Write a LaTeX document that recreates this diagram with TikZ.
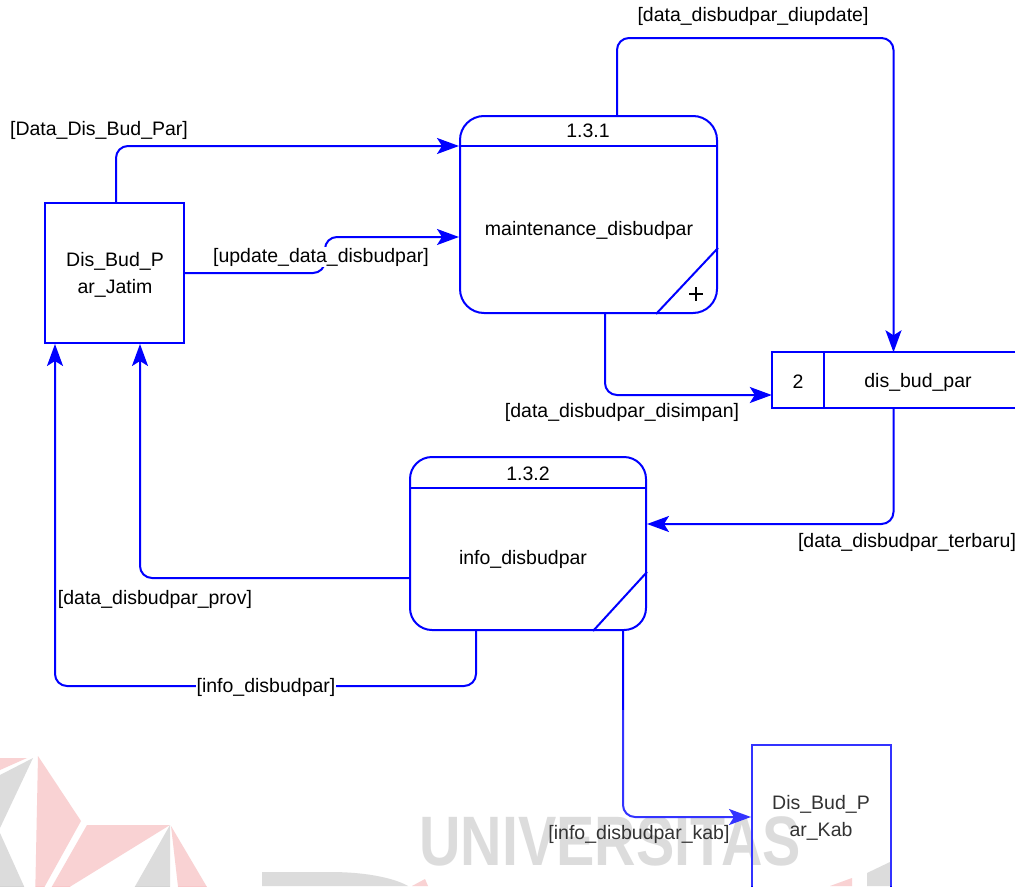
\documentclass[tikz,border=0pt]{standalone}
\usepackage{fontspec}
\setmainfont{Liberation Sans}
\usetikzlibrary{arrows.meta,calc}
\definecolor{dfd}{RGB}{0,0,255}
\definecolor{wmgray}{RGB}{212,212,212}
\definecolor{wmpink}{RGB}{248,199,201}
\begin{document}
\begin{tikzpicture}[x=1pt,y=-1pt,
  lbl/.style={font=\fontsize{19.5}{27}\selectfont, inner sep=1pt, text=black, align=center},
  extbox/.style={draw=dfd, line width=2pt, rectangle, inner sep=0pt},
  procbox/.style={draw=dfd, line width=2pt, rectangle, rounded corners=24pt, inner sep=0pt},
  part/.style={draw=dfd, line width=2pt},
  flow/.style={draw=dfd, line width=2pt, rounded corners=12pt, -{Stealth[length=22pt,width=16pt,inset=5pt]}},
  wmg/.style={fill=wmgray, draw=none},
  wmp/.style={fill=wmpink, draw=none}
]
\useasboundingbox (0,0) rectangle (1025,886);
\clip (0,0) rectangle (1025,886);
\fill[white] (0,0) rectangle (1025,886);

% ---- watermark ----
\begin{scope}[yshift=-18pt]
\fill[wmp] (0,740) -- (27,740) -- (0,752) -- cycle;
\fill[wmg] (33,740) -- (0,757) -- (0,810) -- cycle;
\fill[wmg] (0,815) -- (32,886) -- (0,886) -- cycle;
\fill[wmp] (38,738) -- (81,803) -- (35,886) -- cycle;
\fill[wmp] (87,807) -- (170,807) -- (42,886) -- cycle;
\fill[wmg] (170,807) -- (125,886) -- (170,886) -- cycle;
\fill[wmp] (171,808) -- (180,886) -- (217,886) -- cycle;
\end{scope}
\fill[wmg] (262,872) -- (330,872) .. controls (372,872) and (398,880) .. (408,886) -- (262,886) -- cycle;
\fill[wmp] (412,886) -- (425,879) -- (428,886) -- cycle;
\fill[wmp] (830,886) -- (852,878) -- (852,886) -- cycle;
\fill[wmg] (867,873) -- (890,862) -- (890,886) -- (867,886) -- cycle;
\node[font=\fontsize{70}{70}\selectfont\bfseries, text=wmgray, xscale=0.82, anchor=base west, inner sep=0pt] (wmtext) at (419,865) {UNIVERSITAS};

% ---- external entities ----
\node[extbox, minimum width=139pt, minimum height=140pt] (jatim) at (114.5,273) {};
\node[lbl] (jatimtxt) at (115,275) {Dis\_Bud\_P\\ar\_Jatim};
\node[extbox, minimum width=139pt, minimum height=154pt] (kab) at (821.5,822) {};
\node[lbl] (kabtxt) at (821,818) {Dis\_Bud\_P\\ar\_Kab};

% ---- process 1.3.1 ----
\node[procbox, minimum width=257pt, minimum height=197pt] (p131) at (588.5,214.5) {};
\draw[part] ($(p131.north west)+(0,31)$) -- ($(p131.north east)+(0,31)$);
\draw[part] ($(p131.east)+(0,33.5)$) -- ($(p131.south)+(67.5,0)$);
\node[lbl] (p131id) at (588,131) {1.3.1};
\node[lbl] (p131name) at (589,230) {maintenance\_disbudpar};
\draw[black, line width=1.1pt] (689,294) -- (703,294) (696,287) -- (696,301);

% ---- process 1.3.2 ----
\node[procbox, rounded corners=22pt, minimum width=236pt, minimum height=173pt] (p132) at (528,543.5) {};
\draw[part] ($(p132.north west)+(0,32)$) -- ($(p132.north east)+(0,32)$);
\draw[part] ($(p132.east)+(0,28.5)$) -- ($(p132.south)+(65,0)$);
\node[lbl] (p132id) at (528,474) {1.3.2};
\node[lbl] (p132name) at (523,559) {info\_disbudpar};

% ---- data store ----
\node[minimum width=243pt, minimum height=55pt, inner sep=0pt] (store) at (893.5,380) {};
\draw[part] (store.north east) -- (store.north west) -- (store.south west) -- (store.south east);
\draw[part] ($(store.north west)+(52,0)$) -- ($(store.south west)+(52,0)$);
\node[lbl] (storeid) at (798,382) {2};
\node[lbl] (storename) at (918,382) {dis\_bud\_par};

% ---- helper coordinates ----
\coordinate (b2) at (325,237);
\coordinate (top3) at (0,38);
\coordinate (b7) at (0,686);
\coordinate (j1) at ([xshift=-59.5pt]jatim.south);
\coordinate (j2) at ([xshift=25.5pt]jatim.south);

% ---- flows ----
\draw[flow] ([xshift=1.5pt]jatim.north) |- ($(p131.north west)+(0,31)$);
\node[lbl] (l1) at (99,130) {[Data\_Dis\_Bud\_Par]};

\draw[flow] (jatim.east) -| (b2) -- (b2 -| p131.west);
\node[lbl, fill=white] (l2) at (321,257) {[update\_data\_disbudpar]};

\draw[flow] ([xshift=28.5pt]p131.north) |- (store.north |- top3) -- (store.north);
\node[lbl] (l3) at (753,16) {[data\_disbudpar\_diupdate]};

\draw[flow] ([xshift=16.5pt]p131.south) |- ([yshift=-15pt]store.west);
\node[lbl] (l4) at (622,412) {[data\_disbudpar\_disimpan]};

\draw[flow] (store.south) |- ([yshift=19.5pt]p132.east);
\node[lbl] (l5) at (907,542) {[data\_disbudpar\_terbaru]};

\draw[flow] ([yshift=-34.5pt]p132.west) -| (j2);
\node[lbl] (l6) at (155,599) {[data\_disbudpar\_prov]};

\draw[flow] ([xshift=-52pt]p132.south) |- (j1 |- b7) -- (j1);
\node[lbl, fill=white] (l7) at (266,687) {[info\_disbudpar]};

\draw[flow] ([xshift=95pt]p132.south) |- ([yshift=5pt]kab.west);
\node[lbl] (l8) at (639,834) {[info\_disbudpar\_kab]};

% ---- faded lower band ----
\fill[white, opacity=0.2] (0,710) rectangle (1025,886);
\end{tikzpicture}
\end{document}
